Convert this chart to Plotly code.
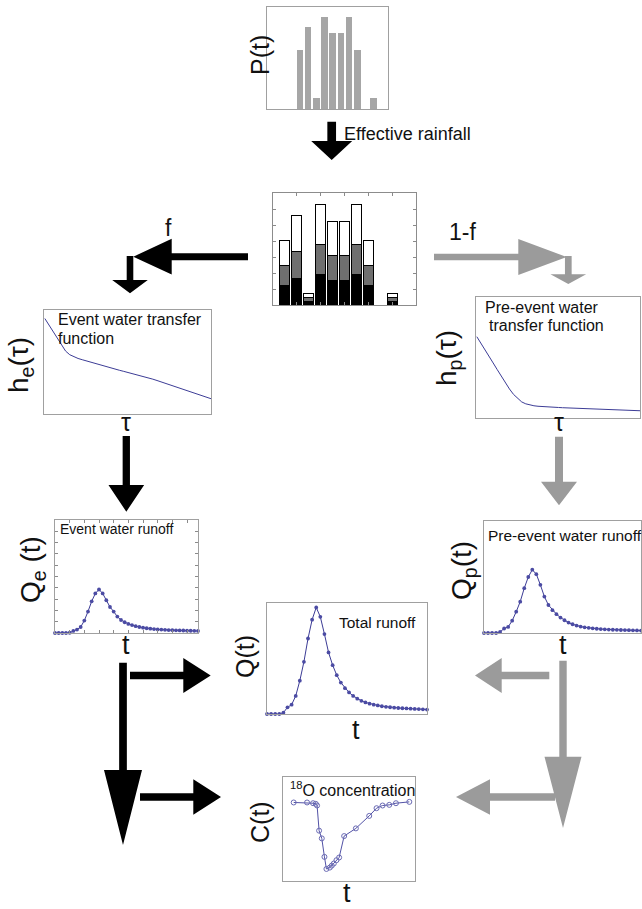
import plotly.graph_objects as go

W, H = 642, 909
FONT = "Liberation Sans, Arial, sans-serif"
LINE = "#3c3c96"
BOX = "#a0a0a0"
GRAY_ARROW = "#9b9b9b"

# ---------------- data ----------------
# rainfall P(t)
p_time = [4, 5, 6, 7, 8, 9, 10, 11, 12, 13]
rain = [4.05, 5.6, 0.75, 6.3, 5.2, 5.2, 6.3, 4.05, 0, 0.75]
# effective rainfall split (event black, mid gray, remaining white)
eff_time = [1, 2, 3, 4, 5, 6, 7, 8, 9, 10]
eff_black = [1.22, 1.68, 0.23, 1.9, 1.55, 1.55, 1.9, 1.22, 0, 0.23]
eff_gray = [1.22, 1.65, 0.23, 1.89, 1.55, 1.55, 1.89, 1.22, 0, 0.23]
eff_white = [1.61, 2.27, 0.29, 2.52, 2.1, 2.1, 2.52, 1.61, 0, 0.29]

# transfer functions
tau = list(range(41))
he = [0.918, 0.855, 0.79, 0.725, 0.665, 0.605, 0.57, 0.55, 0.534, 0.522, 0.51,
      0.498, 0.486, 0.474, 0.463, 0.451, 0.44, 0.43, 0.42, 0.41, 0.4,
      0.39, 0.38, 0.37, 0.359, 0.347, 0.335, 0.322, 0.309, 0.296, 0.283,
      0.27, 0.257, 0.243, 0.229, 0.215, 0.201, 0.188, 0.174, 0.16, 0.147]
hp = [0.672, 0.62, 0.565, 0.51, 0.455, 0.4, 0.345, 0.29, 0.24, 0.195, 0.16,
      0.133, 0.117, 0.107, 0.101, 0.097, 0.094, 0.092, 0.09, 0.088, 0.087,
      0.085, 0.084, 0.082, 0.081, 0.08, 0.078, 0.077, 0.076, 0.074, 0.073,
      0.072, 0.07, 0.069, 0.068, 0.066, 0.065, 0.064, 0.062, 0.061, 0.06]

# runoff series
t = list(range(40))
qe = [0, 0, 0, 0, 0.002, 0.018, 0.03, 0.053, 0.11, 0.19, 0.28, 0.35, 0.385, 0.35,
      0.29, 0.23, 0.19, 0.145, 0.115, 0.095, 0.08, 0.07, 0.06, 0.053, 0.047,
      0.042, 0.038, 0.035, 0.032, 0.03, 0.028, 0.026, 0.025, 0.024, 0.023,
      0.022, 0.021, 0.02, 0.019, 0.018]
qp = [0, 0, 0, 0, 0.01, 0.04, 0.054, 0.11, 0.19, 0.28, 0.4, 0.5, 0.565, 0.525,
      0.43, 0.325, 0.25, 0.204, 0.168, 0.138, 0.114, 0.093, 0.078, 0.066, 0.057,
      0.051, 0.046, 0.042, 0.038, 0.035, 0.033, 0.031, 0.029, 0.028, 0.027,
      0.026, 0.025, 0.024, 0.023, 0.022]
q = [0, 0, 0, 0, 0.012, 0.06, 0.084, 0.163, 0.3, 0.47, 0.68, 0.85, 0.96, 0.875,
     0.72, 0.555, 0.44, 0.35, 0.283, 0.233, 0.194, 0.163, 0.138, 0.119, 0.104,
     0.093, 0.084, 0.077, 0.07, 0.065, 0.061, 0.057, 0.054, 0.052, 0.05,
     0.048, 0.046, 0.044, 0.042, 0.04]

# 18O concentration samples
c_time = [3.24, 7.29, 9.11, 9.92, 10.33, 10.94, 11.75, 12.56, 13.16, 14.18, 14.78,
          15.39, 16.2, 17.01, 18.53, 22.08, 26.13, 28.35, 30.18, 32.2, 34.23, 38.28]
c_val = [0.755, 0.755, 0.748, 0.742, 0.726, 0.484, 0.41, 0.232, 0.116, 0.129, 0.148,
         0.168, 0.2, 0.226, 0.432, 0.506, 0.626, 0.7, 0.726, 0.732, 0.748, 0.761]

# ---------------- layout helpers (pixel geometry) ----------------
def X(px):
    return px / W

def Y(py):
    return 1 - py / H

# panel boxes in pixels: left, right, top, bottom
panels = {
    "P": (267, 388, 7, 109),
    "eff": (273, 416, 193, 305),
    "he": (44, 211, 310, 414),
    "hp": (476, 640, 297, 418),
    "qe": (55, 198, 520, 633),
    "qp": (484, 641, 521, 633),
    "q": (267, 427, 603, 714),
    "c": (283, 415, 777, 881),
}

fig = go.Figure()

def axis_pair(idx, name, xr, yr, ticks=False, xdt=None, ydt=None, linecolor=BOX):
    l, r, tp, b = panels[name]
    common = dict(showgrid=False, zeroline=False, showticklabels=False,
                  showline=True, linecolor=linecolor, linewidth=1,
                  fixedrange=True)
    if ticks:
        common.update(ticks="inside", ticklen=3, tickcolor="#8a8a8a", tickwidth=1,
                      mirror="allticks")
    else:
        common.update(ticks="", mirror=True)
    xa = dict(common, domain=[X(l), X(r)], range=xr, anchor=f"y{idx}" if idx > 1 else "y")
    ya = dict(common, domain=[Y(b), Y(tp)], range=yr, anchor=f"x{idx}" if idx > 1 else "x")
    if ticks:
        xa.update(dtick=xdt, tick0=0)
        ya.update(dtick=ydt, tick0=0)
    key = "" if idx == 1 else str(idx)
    fig.update_layout(**{f"xaxis{key}": xa, f"yaxis{key}": ya})
    return ("x" if idx == 1 else f"x{idx}"), ("y" if idx == 1 else f"y{idx}")

xa1, ya1 = axis_pair(1, "P", [0, 14.75], [0, 7])
xa2, ya2 = axis_pair(2, "eff", [0, 12], [0, 7], ticks=True, xdt=2, ydt=1, linecolor="#8c8c8c")
xa3, ya3 = axis_pair(3, "he", [-0.2, 40], [0, 1])
xa4, ya4 = axis_pair(4, "hp", [-0.2, 40], [0, 1])
xa5, ya5 = axis_pair(5, "qe", [0, 39], [0, 1], ticks=True, xdt=4, ydt=0.1)
xa6, ya6 = axis_pair(6, "qp", [0, 39], [0, 1])
xa7, ya7 = axis_pair(7, "q", [0, 39], [0, 1])
xa8, ya8 = axis_pair(8, "c", [0, 40], [0, 1])

# ---------------- traces ----------------
fig.add_trace(go.Bar(x=p_time, y=rain, width=0.8, marker=dict(color="#a6a6a6", line=dict(width=0)),
                     xaxis=xa1, yaxis=ya1))
for vals, col in [(eff_black, "#000000"), (eff_gray, "#6f6f6f"), (eff_white, "#ffffff")]:
    fig.add_trace(go.Bar(x=eff_time, y=vals, width=0.84,
                         marker=dict(color=col, line=dict(color="#000000", width=1)),
                         xaxis=xa2, yaxis=ya2))

fig.add_trace(go.Scatter(x=tau, y=he, mode="lines", line=dict(color=LINE, width=1),
                         xaxis=xa3, yaxis=ya3))
fig.add_trace(go.Scatter(x=tau, y=hp, mode="lines", line=dict(color=LINE, width=1),
                         xaxis=xa4, yaxis=ya4, cliponaxis=True))

dot = dict(symbol="circle", size=3.8, color="#4b4ba3")
for series, xa, ya in [(qe, xa5, ya5), (qp, xa6, ya6), (q, xa7, ya7)]:
    fig.add_trace(go.Scatter(x=t, y=series, mode="lines+markers",
                             line=dict(color=LINE, width=1), marker=dot,
                             xaxis=xa, yaxis=ya, cliponaxis=False))

fig.add_trace(go.Scatter(x=c_time, y=c_val, mode="lines+markers",
                         line=dict(color="#5252a6", width=1),
                         marker=dict(symbol="circle-open", size=5, color="#6a6ab4",
                                     line=dict(width=1)),
                         xaxis=xa8, yaxis=ya8, cliponaxis=False))

# ---------------- arrows (diagram decoration, pixel geometry) ----------------
def poly(pts, color):
    path = "M " + " L ".join(f"{X(a):.5f},{Y(b):.5f}" for a, b in pts) + " Z"
    fig.add_shape(type="path", path=path, xref="paper", yref="paper",
                  fillcolor=color, line=dict(width=0), layer="above")

def down(xc, y0, yb, sw, hw, tip, color):
    poly([(xc - sw / 2, y0), (xc + sw / 2, y0), (xc + sw / 2, yb), (xc + hw / 2, yb),
          (xc, tip), (xc - hw / 2, yb), (xc - sw / 2, yb)], color)

def horiz(yc, x0, xb, sw, hh, tip, color):
    poly([(x0, yc - sw / 2), (xb, yc - sw / 2), (xb, yc - hh / 2), (tip, yc),
          (xb, yc + hh / 2), (xb, yc + sw / 2), (x0, yc + sw / 2)], color)

K = "#000000"
G = GRAY_ARROW
down(331.7, 121.7, 141, 8.7, 41, 160, K)            # effective rainfall
horiz(256.7, 248, 171.7, 7, 35.7, 133.3, K)         # f branch
down(130, 256, 280, 6.6, 35.6, 293.3, K)
horiz(257, 434, 518.3, 6.5, 36, 566.7, G)           # 1-f branch
down(568.3, 256, 274.3, 6.7, 35.7, 284, G)
down(126.3, 436, 485, 7.3, 35.7, 511.7, K)          # he -> Qe
down(559, 436.7, 481.7, 8, 36, 505.3, G)            # hp -> Qp
down(123, 662.7, 770, 7.7, 38, 845, K)              # Qe -> C
horiz(675.5, 130, 183.3, 7.6, 35, 210.7, K)         # Qe -> Q
horiz(797, 140, 193.3, 7.4, 35.7, 221, K)           # Qe -> C
down(563, 660.7, 756.7, 7.4, 37, 828, G)            # Qp -> C
horiz(675.5, 549.3, 501.7, 7.6, 35, 475, G)         # Qp -> Q
horiz(797, 555, 490, 7.4, 35.7, 456, G)             # Qp -> C

# ---------------- text ----------------
def txt(s, x, y, size, xanchor="center", yanchor="middle", angle=0):
    fig.add_annotation(text=s, x=X(x), y=Y(y), xref="paper", yref="paper",
                       showarrow=False, xanchor=xanchor, yanchor=yanchor,
                       textangle=angle, font=dict(family=FONT, size=size, color="#111111"),
                       align="left")

txt("P(t)", 260, 55, 25, angle=-90)
txt("Effective rainfall", 342, 134, 18, xanchor="left")
txt("f", 169, 228, 23)
txt("1-f", 462, 232, 23)
txt("h<sub>e</sub>(τ)", 20, 365, 28, angle=-90)
txt("τ", 126, 422, 25)
txt("h<sub>p</sub>(τ)", 449, 358, 28, angle=-90)
txt("τ", 559, 422, 25)
txt("Q<sub>e</sub> (t)", 32, 570, 28, angle=-90)
txt("t", 126, 645, 27)
txt("Q<sub>p</sub>(t)", 463, 571, 28, angle=-90)
txt("t", 563, 645, 27)
txt("Q(t)", 245, 657, 25, angle=-90)
txt("t", 356, 730, 27)
txt("C(t)", 260, 822, 25, angle=-90)
txt("t", 347, 893, 27)

txt("Event water transfer", 56, 320, 16, xanchor="left")
txt("function", 56, 339, 16, xanchor="left")
txt("Pre-event water", 483, 307, 16, xanchor="left")
txt("transfer function", 487, 325, 16, xanchor="left")
txt("Event water runoff", 58, 529, 14, xanchor="left")
txt("Pre-event water runoff", 486, 535, 15.5, xanchor="left")
txt("Total runoff", 337, 622, 15.5, xanchor="left")
txt("<sup>18</sup>O concentration", 288, 789, 16, xanchor="left")

fig.update_layout(width=W, height=H, margin=dict(l=0, r=0, t=0, b=0),
                  paper_bgcolor="white", plot_bgcolor="rgba(0,0,0,0)",
                  showlegend=False, barmode="stack", bargap=0,
                  font=dict(family=FONT))

fig.write_html("out.html", config={"displayModeBar": False, "staticPlot": True},
               post_script="document.body.style.margin='0';document.body.style.overflow='hidden';")
